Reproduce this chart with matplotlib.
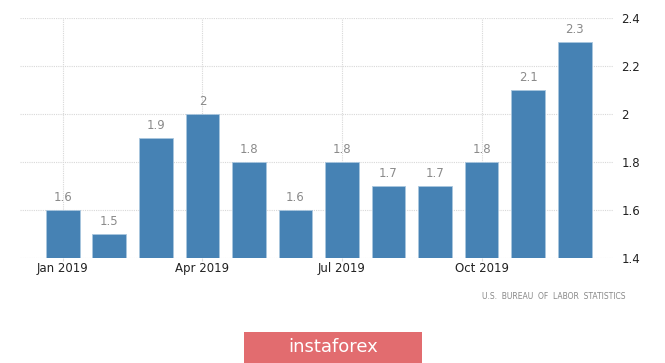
import matplotlib.pyplot as plt
import numpy as np

months = ['Jan 2019', 'Feb 2019', 'Mar 2019', 'Apr 2019', 'May 2019', 'Jun 2019',
          'Jul 2019', 'Aug 2019', 'Sep 2019', 'Oct 2019', 'Nov 2019', 'Dec 2019']
values = [1.6, 1.5, 1.9, 2.0, 1.8, 1.6, 1.8, 1.7, 1.7, 1.8, 2.1, 2.3]
yticks = [1.4, 1.6, 1.8, 2.0, 2.2, 2.4]
ytick_labels = ['1.4', '1.6', '1.8', '2', '2.2', '2.4']
xtick_idx = [0, 3, 6, 9]


def main():
    fig = plt.figure(figsize=(6.65, 3.63), dpi=100)
    ax = fig.add_axes([0.030, 0.289, 0.892, 0.661])

    x = np.arange(len(months))
    ax.bar(x, values, width=0.73, bottom=0, color='#4682b4',
           edgecolor='#a9c6de', linewidth=0.6, zorder=3)
    for xi, v in zip(x, values):
        ax.text(xi, v + 0.025, f'{v:g}', ha='center', va='bottom',
                fontsize=8.5, color='#8a8a8a')

    ax.set_ylim(1.4, 2.4)
    ax.set_xlim(-0.925, 11.83)
    ax.set_yticks(yticks, ytick_labels)
    ax.set_xticks(xtick_idx, [months[i] for i in xtick_idx])
    ax.yaxis.tick_right()
    ax.tick_params(axis='y', length=0, pad=6, labelsize=8.5, colors='#222222')
    ax.tick_params(axis='x', length=2, color='#dddddd', pad=1,
                   labelsize=8.5, colors='#222222')
    ax.grid(True, color='#d8d8d8', linestyle=(0, (1, 1)), linewidth=0.8, zorder=0)
    for s in ax.spines.values():
        s.set_visible(False)

    fig.text(0.94, 0.183, 'U.S.  BUREAU  OF  LABOR  STATISTICS', ha='right',
             va='center', fontsize=5.5, color='#888888')

    banner = fig.add_axes([244 / 665, 0, 178 / 665, 31 / 363])
    banner.set_facecolor('#e26c6f')
    banner.set_xticks([])
    banner.set_yticks([])
    for s in banner.spines.values():
        s.set_visible(False)
    banner.text(0.5, 0.5, 'instaforex', ha='center', va='center',
                fontsize=13, color='white', transform=banner.transAxes)

    fig.savefig('out.png', dpi=100)


if __name__ == '__main__':
    main()
